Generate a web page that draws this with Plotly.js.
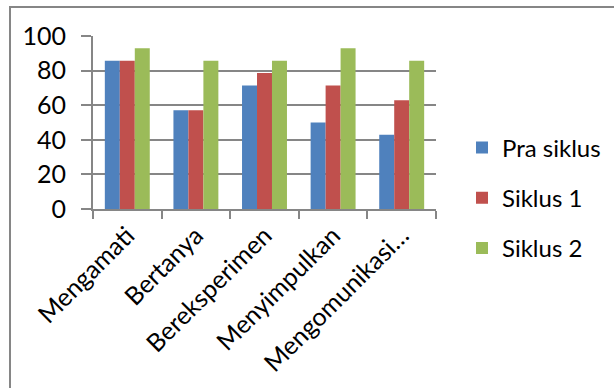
<!DOCTYPE html>
<html>
<head>
<meta charset="utf-8">
<script src="https://cdn.plot.ly/plotly-3.0.1.min.js"></script>
<style>
html,body{margin:0;padding:0;background:#fff;}
#chart{width:614px;height:388px;}
</style>
</head>
<body>
<div id="chart"></div>
<script>
const categories = ["Mengamati", "Bertanya", "Bereksperimen", "Menyimpulkan", "Mengomunikasi…"];
const praSiklus = [85.7, 57.1, 71.4, 50.0, 42.9];
const siklus1 = [85.7, 57.1, 78.6, 71.4, 62.9];
const siklus2 = [92.9, 85.7, 85.7, 92.9, 85.7];
const seriesNames = ["Pra siklus", "Siklus 1", "Siklus 2"];
const seriesColors = ["#4F81BD", "#C0504D", "#9BBB59"];
const yTicks = [0, 20, 40, 60, 80, 100];

const FONT = "Lato, 'Open Sans', sans-serif";
const FS = 25;
const allSeries = [praSiklus, siklus1, siklus2];
const traces = allSeries.map((vals, i) => ({
  type: "bar",
  x: categories,
  y: vals,
  name: seriesNames[i],
  legendgroup: "g" + i,
  marker: {color: seriesColors[i], line: {width: 0}},
  hoverinfo: "x+y+name"
}));

const L = 93, R = 178, T = 36, B = 179;
const W = 614, H = 388;
const pw = W - L - R, ph = H - T - B;
const px = p => (p - L) / pw;
const py = p => (H - B - p) / ph;

const layout = {
  width: W, height: H,
  margin: {l: L, r: R, t: T, b: B, pad: 0, autoexpand: false},
  paper_bgcolor: "#ffffff",
  plot_bgcolor: "#ffffff",
  font: {family: FONT, size: FS, color: "#000000"},
  barmode: "group",
  bargap: 0.345,
  bargroupgap: 0,
  showlegend: true,
  legend: {
    xref: "container", yref: "container",
    x: 462 / W, xanchor: "left",
    y: 1 - 198 / H, yanchor: "middle",
    font: {family: FONT, size: 24, color: "#000000"},
    traceorder: "grouped",
    tracegroupgap: 16,
    bgcolor: "rgba(0,0,0,0)"
  },
  xaxis: {
    type: "category",
    tickangle: -45,
    ticks: "outside",
    tickson: "boundaries",
    ticklen: 8,
    tickwidth: 2,
    tickcolor: "#868686",
    showline: true,
    linecolor: "#868686",
    linewidth: 2,
    showgrid: false,
    automargin: false,
    tickfont: {family: FONT, size: FS, color: "#000000"},
    fixedrange: true
  },
  yaxis: {
    range: [0, 100],
    tickvals: yTicks,
    ticktext: yTicks.map(String),
    ticks: "outside",
    ticklen: 10,
    tickwidth: 2,
    tickcolor: "#868686",
    showline: true,
    linecolor: "#868686",
    linewidth: 2,
    showgrid: true,
    gridcolor: "#868686",
    gridwidth: 2,
    zeroline: false,
    automargin: false,
    ticklabelstandoff: 10,
    tickfont: {family: FONT, size: FS, color: "#000000"},
    fixedrange: true
  },
  shapes: [
    {type: "line", xref: "paper", yref: "paper", x0: px(10), x1: px(10), y0: py(7), y1: py(390),
     line: {color: "#868686", width: 2}},
    {type: "line", xref: "paper", yref: "paper", x0: px(9), x1: px(614), y0: py(7), y1: py(7),
     line: {color: "#868686", width: 2}}
  ]
};

Plotly.newPlot("chart", traces, layout, {displayModeBar: false, staticPlot: true});
</script>
</body>
</html>
